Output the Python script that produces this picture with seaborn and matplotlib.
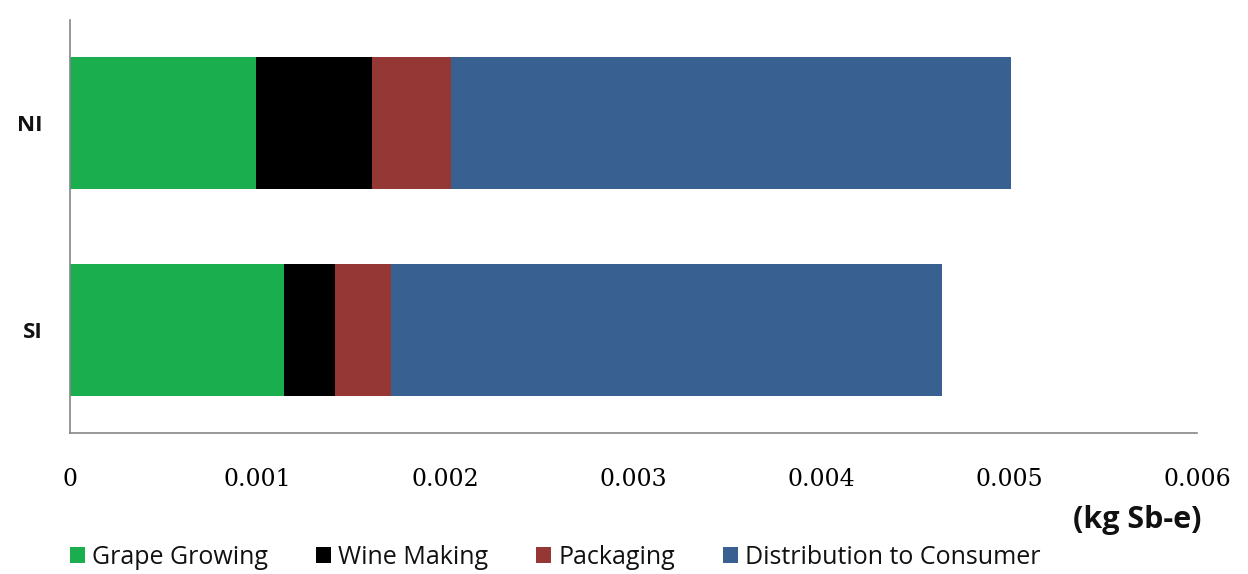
import numpy as np
import pandas as pd
import matplotlib.pyplot as plt
from matplotlib.patches import Patch
import seaborn as sns

# values (kg Sb-e)
regions = ["NI", "SI"]
stages = ["Grape Growing", "Wine Making", "Packaging", "Distribution to Consumer"]
grape_growing = [0.00099, 0.00114]
wine_making = [0.00062, 0.00027]
packaging = [0.00042, 0.00030]
distribution = [0.00298, 0.00293]
colors = ["#1BAE4F", "#000000", "#953735", "#386192"]
x_ticks = [0, 0.001, 0.002, 0.003, 0.004, 0.005, 0.006]

sns.set_theme(style="white")
plt.rcParams["font.family"] = ["Open Sans", "DejaVu Sans"]

segments = np.array([grape_growing, wine_making, packaging, distribution])
cumulative = np.cumsum(segments, axis=0)

W, H = 1248, 574
fig = plt.figure(figsize=(W / 100, H / 100), dpi=100)
ax = fig.add_axes([70 / W, 1 - 433 / H, (1197 - 70) / W, (433 - 20) / H])

# stacked bars: draw the longest cumulative first, then overlay shorter ones
for i in reversed(range(len(stages))):
    df = pd.DataFrame({"region": regions, "value": cumulative[i]})
    sns.barplot(data=df, x="value", y="region", color=colors[i], orient="h",
                width=0.64, saturation=1, linewidth=0, ax=ax)

ax.set_xlim(0, 0.006)
ax.set_ylim(1.5, -0.5)
ax.set_xticks(x_ticks)
ax.set_xticklabels(["0" if t == 0 else f"{t:.3f}" for t in x_ticks],
                   fontsize=17, family="DejaVu Serif", color="#000000")
ax.set_yticklabels(regions, fontsize=16, fontweight="bold", color="#111111")
ax.tick_params(axis="x", length=0, pad=25)
ax.tick_params(axis="y", length=0, pad=20)
ax.set_xlabel("")
ax.set_ylabel("")
sns.despine(ax=ax)
for side in ["left", "bottom"]:
    ax.spines[side].set_color("#868686")
    ax.spines[side].set_linewidth(1.2)

fig.text(1137 / W, 1 - 520 / H, "(kg Sb-e)", ha="center", va="center",
         fontsize=22, fontweight="bold", color="#111111")

handles = [Patch(facecolor=c, edgecolor="none") for c in colors]
fig.legend(handles, stages, loc="center left", bbox_to_anchor=(70 / W, 1 - 557 / H),
           ncol=4, frameon=False, fontsize=18, handlelength=0.6, handleheight=0.6,
           handletextpad=0.3, columnspacing=1.9, borderaxespad=0, borderpad=0)
for t in fig.legends[0].get_texts():
    t.set_color("#111111")

fig.savefig("out.png", dpi=100)
